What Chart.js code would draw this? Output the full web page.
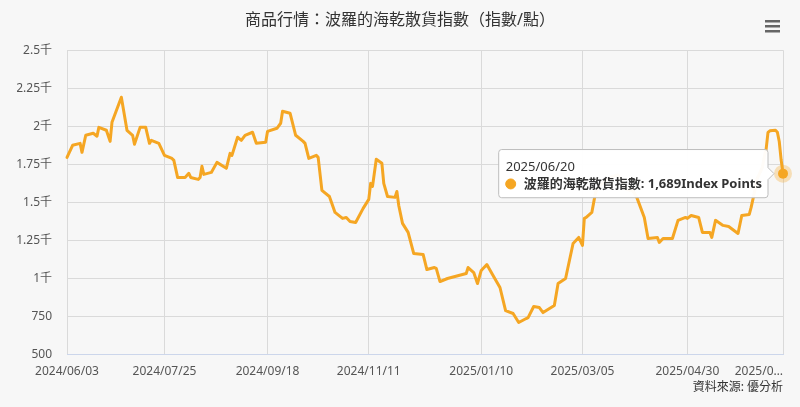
<!DOCTYPE html>
<html><head><meta charset="utf-8">
<script src="https://cdn.jsdelivr.net/npm/chart.js@4.4.1/dist/chart.umd.min.js"></script>
<style>html,body{margin:0;padding:0;background:#f7f7f7;}#wrap{width:800px;height:407px;}</style>
</head><body><div id="wrap"><canvas id="c" width="800" height="407"></canvas></div>
<script>
const titleText = '商品行情：波羅的海乾散貨指數（指數/點）';
const sourceText = '資料來源: 優分析';
const seriesName = '波羅的海乾散貨指數';
const unitText = 'Index Points';

const dates = [
'2024/06/03','2024/06/06','2024/06/10','2024/06/11','2024/06/13','2024/06/17','2024/06/19','2024/06/20','2024/06/24','2024/06/26',
'2024/06/27','2024/06/28','2024/07/02','2024/07/05','2024/07/08','2024/07/09','2024/07/12','2024/07/15','2024/07/17','2024/07/18',
'2024/07/22','2024/07/23','2024/07/25','2024/07/29','2024/07/30','2024/08/01','2024/08/05','2024/08/07','2024/08/08','2024/08/12',
'2024/08/13','2024/08/14','2024/08/15','2024/08/19','2024/08/22','2024/08/27','2024/08/29','2024/08/30','2024/09/02','2024/09/04',
'2024/09/06','2024/09/10','2024/09/12','2024/09/17','2024/09/18','2024/09/23','2024/09/25','2024/09/26','2024/09/30','2024/10/03',
'2024/10/07','2024/10/08','2024/10/10','2024/10/14','2024/10/15','2024/10/17','2024/10/21','2024/10/24','2024/10/28','2024/10/30',
'2024/11/01','2024/11/04','2024/11/08','2024/11/11','2024/11/12','2024/11/13','2024/11/15','2024/11/18','2024/11/19','2024/11/21',
'2024/11/25','2024/11/26','2024/11/27','2024/11/29','2024/12/02','2024/12/05','2024/12/10','2024/12/12','2024/12/16','2024/12/17',
'2024/12/19','2024/12/23','2025/01/02','2025/01/03','2025/01/06','2025/01/08','2025/01/10','2025/01/13','2025/01/16','2025/01/20',
'2025/01/23','2025/01/27','2025/01/30','2025/02/03','2025/02/04','2025/02/07','2025/02/10','2025/02/12','2025/02/18','2025/02/20',
'2025/02/24','2025/02/28','2025/03/03','2025/03/05','2025/03/06','2025/03/07','2025/03/10','2025/03/12','2025/03/14','2025/03/17',
'2025/03/19','2025/03/21','2025/03/24','2025/03/26','2025/03/28','2025/04/01','2025/04/03','2025/04/07','2025/04/09','2025/04/14',
'2025/04/15','2025/04/17','2025/04/22','2025/04/25','2025/04/29','2025/04/30','2025/05/02','2025/05/06','2025/05/08','2025/05/12',
'2025/05/13','2025/05/15','2025/05/19','2025/05/22','2025/05/27','2025/05/29','2025/06/02','2025/06/03','2025/06/05','2025/06/06',
'2025/06/09','2025/06/10','2025/06/11','2025/06/12','2025/06/13','2025/06/16','2025/06/17','2025/06/18','2025/06/19','2025/06/20'
];
const values = [
1796,1875,1888,1829,1941,1954,1935,1993,1974,1901,
2026,2059,2191,1974,1941,1882,1993,1993,1888,1908,
1888,1862,1809,1789,1776,1664,1664,1691,1664,1651,
1664,1737,1684,1697,1763,1724,1822,1809,1928,1908,
1941,1961,1888,1895,1967,1987,2020,2099,2086,1941,
1901,1888,1789,1809,1796,1579,1539,1434,1395,1401,
1375,1368,1461,1520,1625,1605,1783,1757,1625,1539,
1533,1572,1480,1362,1303,1164,1158,1059,1072,1066,
980,1000,1033,1072,1039,967,1053,1092,1026,941,
789,770,711,737,743,816,809,776,822,967,
1000,1230,1270,1217,1395,1401,1434,1566,1610,1635,
1655,1672,1680,1640,1590,1575,1533,1401,1263,1270,
1237,1263,1263,1382,1401,1395,1414,1401,1303,1303,
1270,1382,1349,1342,1296,1414,1421,1467,1579,1650,
1730,1800,1850,1960,1970,1974,1961,1900,1780,1689
];
const xTickDates = ['2024/06/03','2024/07/25','2024/09/18','2024/11/11','2025/01/10','2025/03/05','2025/04/30','2025/06/20'];
const xTickLabels = ['2024/06/03','2024/07/25','2024/09/18','2024/11/11','2025/01/10','2025/03/05','2025/04/30','2025/0…'];
const yMin = 500, yMax = 2500, yStep = 250;

const lineColor = '#f5a623';
const FONT = '"Noto Sans", "Noto Sans CJK TC", sans-serif';
Chart.defaults.font.family = FONT;

const t0 = Date.UTC(2024, 5, 3);
function dayOf(s) { const p = s.split('/'); return (Date.UTC(+p[0], +p[1] - 1, +p[2]) - t0) / 86400000; }
const points = dates.map((d, i) => ({ x: dayOf(d), y: values[i] }));
const xTickDays = xTickDates.map(dayOf);

const menuIcon = {
  id: 'menuIcon',
  afterDraw(chart) {
    const ctx = chart.ctx;
    ctx.save();
    ctx.fillStyle = '#666';
    for (let i = 0; i < 3; i++) ctx.fillRect(chart.width - 35, 20 + i * 5, 15, 2.5);
    ctx.restore();
  }
};

const chart = new Chart(document.getElementById('c'), {
  type: 'line',
  data: { datasets: [{
    label: seriesName,
    data: points,
    borderColor: lineColor,
    backgroundColor: lineColor,
    borderWidth: 3,
    borderJoinStyle: 'round',
    borderCapStyle: 'round',
    pointRadius: 0,
    pointHoverRadius: 5,
    pointHoverBackgroundColor: lineColor,
    pointHoverBorderColor: 'rgba(245,166,35,0.3)',
    pointHoverBorderWidth: 8,
    tension: 0,
    clip: false
  }] },
  options: {
    responsive: false,
    animation: false,
    events: [],
    layout: { padding: { left: 17, right: 17, top: 0, bottom: 0 } },
    plugins: {
      legend: { display: false },
      title: { display: true, text: titleText, color: '#333', font: { size: 16, weight: 'normal' }, padding: { top: 11, bottom: 20 } },
      subtitle: { display: true, position: 'bottom', align: 'end', text: sourceText, color: '#333', font: { size: 12, weight: 'normal' }, padding: { top: 2, bottom: 12 } },
      tooltip: {
        backgroundColor: 'rgba(255,255,255,0.97)',
        borderColor: '#bdbdbd', borderWidth: 1,
        titleColor: '#333', bodyColor: '#333',
        titleFont: { size: 13, weight: 'normal' },
        bodyFont: { size: 13, weight: 'bold' },
        padding: { left: 7, right: 6, top: 10, bottom: 6 },
        titleMarginBottom: 1,
        caretSize: 6, caretPadding: 9, cornerRadius: 3,
        usePointStyle: true, boxWidth: 10, boxHeight: 10, boxPadding: 6,
        callbacks: {
          title: items => dates[items[0].dataIndex],
          label: item => item.dataset.label + ': ' + item.parsed.y.toLocaleString('en-US') + unitText,
          labelColor: () => ({ borderColor: lineColor, backgroundColor: lineColor }),
          labelPointStyle: () => ({ pointStyle: 'circle', rotation: 0 })
        }
      }
    },
    scales: {
      x: {
        type: 'linear', min: 0, max: xTickDays[xTickDays.length - 1],
        grid: { color: '#dadada', drawTicks: false },
        border: { color: '#ccd6eb', width: 1 },
        ticks: { autoSkip: false, maxRotation: 0, align: 'inner', padding: 10, color: '#555', font: { size: 12 },
          callback: (v, i) => i === 0 ? '' : xTickLabels[i - 1] },
        afterBuildTicks: s => { s.ticks = [{ value: 0 }].concat(xTickDays.map(v => ({ value: v }))); },
        afterFit: s => { s.height = 24; }
      },
      y: {
        min: yMin, max: yMax,
        grid: { color: '#dadada', drawTicks: false },
        border: { display: false },
        ticks: { stepSize: yStep, padding: 15, color: '#555', font: { size: 12 },
          callback: v => v >= 1000 ? (v / 1000) + '千' : String(v) },
        afterFit: s => { s.width = 50; }
      }
    }
  },
  plugins: [menuIcon]
});

const last = values.length - 1;
chart.setActiveElements([{ datasetIndex: 0, index: last }]);
chart.tooltip.setActiveElements([{ datasetIndex: 0, index: last }], {
  x: chart.scales.x.getPixelForValue(points[last].x),
  y: chart.scales.y.getPixelForValue(points[last].y)
});
chart.update();
</script>
</body></html>
